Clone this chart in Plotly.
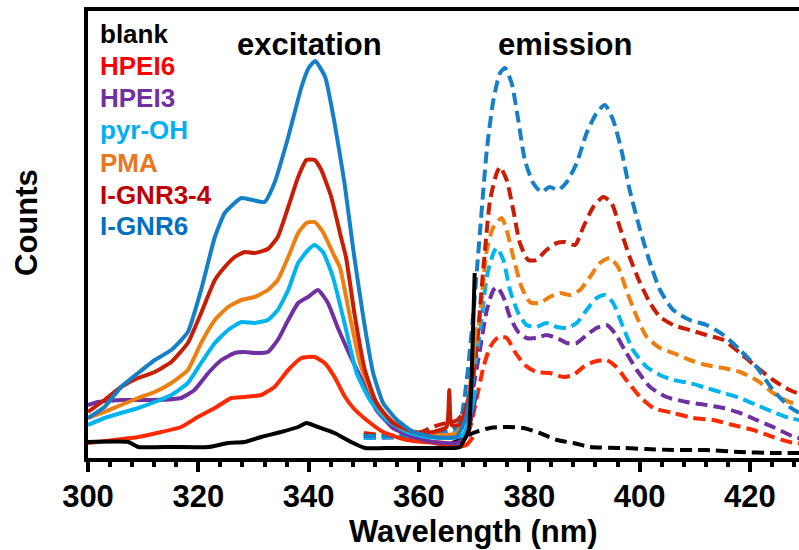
import plotly.graph_objects as go

# ---------------- data: excitation (solid) and emission (dashed) spectra ----------------
SAMPLES = ["blank", "HPEI6", "HPEI3", "pyr-OH", "PMA", "I-GNR3-4", "I-GNR6"]

BLANK_EX_WL = [300, 307.3, 309.1, 315.1, 321.8, 325.4, 328.4, 331.4, 335.0, 338.1, 339.6, 341.7,
               344.7, 347.7, 350.2, 355, 360, 365, 367.4, 369.0, 369.7, 370.1]
BLANK_EX = [16, 16, 11, 11, 11, 15, 16, 21, 26, 31, 35, 31, 25, 16, 10, 10, 10, 10, 11, 28, 108, 185]

HPEI6_EX_WL = [300, 304.8, 309.1, 313.3, 316.9, 319.9, 323.0, 326.0, 328.4, 331.4, 333.8, 336.3,
               338.7, 341.1, 342.9, 344.7, 346.5, 348.1, 350.5, 353.5, 357.8, 362.6, 366.8, 368.6, 369.8]
HPEI6_EX = [15, 18, 21, 26, 31, 41, 50, 60, 61, 63, 71, 88, 100, 101, 95, 81, 62, 50, 38, 26, 18,
            15, 11, 13, 21]

HPEI3_EX_WL = [300, 301.8, 306.0, 312.1, 316.9, 319.3, 321.8, 324.2, 326.6, 328.4, 330.2, 332.6,
               334.4, 336.3, 338.1, 339.9, 341.7, 343.5, 345.3, 347.3, 349.9, 352.3, 355.3, 359.0,
               362.6, 366.8, 368.6, 369.8, 370.4]
HPEI3_EX = [53, 56, 58, 58, 60, 68, 85, 98, 105, 106, 105, 106, 118, 138, 155, 161, 168, 155, 130,
            105, 75, 48, 30, 21, 16, 15, 21, 48, 65]

PYR_EX_WL = [300, 303.0, 306.0, 309.1, 312.1, 315.1, 318.1, 320.5, 323.0, 325.4, 327.8, 330.2,
             332.6, 334.4, 336.3, 338.1, 339.9, 341.1, 342.6, 344.4, 346.5, 348.7, 351.1, 354.1,
             357.8, 361.4, 365.6, 368.0, 369.5, 370.2]
PYR_EX = [33, 40, 45, 50, 56, 63, 75, 95, 115, 128, 136, 135, 138, 148, 168, 195, 208, 213, 206,
          181, 135, 85, 58, 38, 26, 21, 20, 23, 48, 68]

PMA_EX_WL = [300, 303.0, 306.0, 309.1, 312.1, 315.1, 318.1, 320.5, 323.0, 325.4, 327.8, 330.2,
             332.6, 334.4, 336.3, 338.1, 339.6, 341.1, 342.6, 344.4, 345.7, 347.5, 349.3, 351.1,
             353.5, 356.6, 360.2, 363.8, 366.8, 368.6, 369.8, 370.3]
PMA_EX = [40, 46, 53, 60, 66, 75, 88, 115, 138, 151, 158, 161, 168, 178, 201, 225, 235, 236, 226,
          205, 190, 141, 95, 68, 45, 31, 25, 23, 25, 48, 98, 131]

GNR34_EX_WL = [300, 303.0, 306.0, 309.1, 312.1, 315.1, 318.1, 320.5, 323.0, 324.8, 326.6, 328.4,
               330.2, 332.6, 334.4, 336.3, 338.1, 339.6, 341.1, 342.3, 344.1, 345.9, 346.8, 348.4,
               350.2, 352.3, 355.3, 359.0, 362.6, 365.0, 365.5, 365.9, 367.4, 369.0, 370.0]
GNR34_EX = [46, 58, 71, 80, 86, 96, 115, 145, 178, 191, 201, 206, 205, 209, 221, 251, 281, 298,
            298, 288, 261, 220, 200, 141, 88, 55, 35, 26, 26, 31, 68, 33, 33, 60, 90]

GNR6_EX_WL = [300, 303.0, 306.0, 309.1, 312.1, 315.1, 318.1, 320.5, 323.0, 324.8, 327.8, 332.0,
              333.8, 336.3, 338.7, 340.0, 341.2, 343.0, 344.7, 346.5, 348.1, 349.9, 351.7, 353.5,
              356.0, 359.0, 362.6, 366.8, 368.5, 369.8]
GNR6_EX = [40, 51, 71, 85, 98, 108, 126, 168, 221, 245, 260, 256, 275, 321, 371, 390, 397, 381,
           335, 275, 208, 141, 85, 55, 38, 26, 21, 21, 40, 80]

BLANK_EM_WL = [366, 367.4, 369.8, 372.9, 375.9, 378.9, 381.9, 385.0, 388.0, 391.0, 397.0, 401.3,
               406.1, 412.1, 418.2, 424.2, 430]
BLANK_EM = [15, 18, 25, 30, 31, 30, 25, 18, 15, 11, 10, 9, 8, 8, 6, 5, 5]

HPEI6_EM_WL = [350, 360, 366, 368.5, 369.5, 370.4, 371.7, 372.9, 374.4, 375.9, 377.4, 379.2, 381.3,
               383.7, 386.2, 388.0, 389.8, 391.6, 394.0, 395.8, 397.6, 400.1, 402.5, 406.1, 409.7,
               413.3, 416.9, 420.6, 424.2, 427.2, 430]
HPEI6_EM = [25, 18, 15, 20, 35, 58, 91, 111, 121, 120, 106, 93, 86, 85, 81, 83, 91, 96, 98, 91,
            78, 61, 50, 45, 40, 38, 33, 28, 21, 16, 14]

HPEI3_EM_WL = [350, 360, 366, 368.5, 370, 371.05, 372.3, 373.5, 374.2, 375.3, 376.5, 378.0, 379.5,
               381.3, 383.1, 385.0, 386.8, 388.6, 390.4, 392.2, 394.0, 395.5, 397.3, 399.5, 401.9,
               404.9, 408.5, 412.1, 415.2, 418.2, 421.2, 424.2, 427.2, 430]
HPEI3_EM = [20, 21, 22, 35, 75, 108, 148, 168, 171, 161, 141, 126, 120, 120, 123, 120, 115, 115,
            123, 130, 133, 125, 108, 88, 71, 61, 56, 53, 50, 45, 38, 31, 23, 18]

PYR_EM_WL = [350, 360, 366, 368, 369.5, 371.05, 372.3, 373.5, 374.1, 375.3, 376.5, 378.0, 379.5,
             381.3, 383.1, 385.0, 386.8, 388.6, 390.4, 392.2, 393.7, 395.2, 397.0, 398.8, 401.3,
             403.7, 406.1, 409.1, 412.1, 415.2, 418.2, 421.2, 424.2, 427.2, 430]
PYR_EM = [20, 22, 24, 35, 70, 125, 181, 205, 210, 198, 168, 145, 133, 131, 135, 131, 130, 135, 148,
          160, 163, 155, 131, 108, 91, 83, 78, 75, 70, 65, 60, 53, 46, 40, 37]

PMA_EM_WL = [350, 360, 364, 367, 369, 370, 371.05, 372.3, 373.5, 375.0, 375.9, 377.1, 378.6, 380.1,
             381.9, 383.7, 385.6, 387.4, 389.2, 391.0, 392.8, 394.6, 396.1, 397.6, 399.5, 401.3,
             403.7, 406.1, 409.1, 412.1, 415.2, 418.2, 421.2, 424.2, 427.2, 430]
PMA_EM = [22, 24, 28, 32, 60, 100, 141, 208, 231, 240, 228, 201, 171, 156, 155, 161, 165, 163, 168,
          181, 195, 200, 191, 168, 141, 121, 110, 105, 98, 93, 90, 86, 78, 65, 56, 53]

GNR34_EM_WL = [350, 355, 360, 363, 365, 367, 369, 370.4, 371.7, 372.9, 374.1, 374.7, 375.9, 377.1,
               378.3, 379.8, 381.3, 383.1, 385.0, 386.5, 388.3, 389.8, 391.6, 393.4, 394.9, 396.4,
               398.2, 400.1, 401.9, 403.7, 406.1, 409.1, 412.1, 415.2, 418.2, 421.2, 424.2, 427.2,
               430]
GNR34_EM = [24, 22, 25, 32, 35, 38, 55, 108, 191, 258, 285, 291, 278, 248, 215, 198, 198, 208, 215,
            216, 213, 231, 251, 261, 255, 231, 201, 175, 155, 141, 133, 128, 123, 118, 105, 91, 78,
            68, 62]

GNR6_EM_WL = [350, 355, 360, 364, 366, 367.4, 368.6, 369.8, 371.05, 372.3, 373.5, 374.7, 375.6,
              376.8, 378.0, 379.2, 380.7, 382.2, 383.7, 385.3, 386.8, 388.6, 390.4, 392.2, 393.7,
              395.2, 396.7, 398.2, 400.1, 401.9, 403.7, 406.1, 409.1, 412.1, 415.2, 418.2, 421.2,
              424.2, 427.2, 430]
GNR6_EM = [22, 22, 23, 25, 28, 35, 75, 141, 225, 308, 358, 385, 390, 375, 338, 298, 275, 266, 271,
           268, 276, 295, 325, 345, 353, 338, 308, 268, 228, 195, 168, 148, 138, 133, 123, 108, 91,
           68, 51, 42]

X_TICKS = [300, 320, 340, 360, 380, 400, 420]

# ---------------- styling ----------------
LINE_COLORS = {
    "blank": "#000000",
    "HPEI6": "#FF2A00",
    "HPEI3": "#7030A0",
    "pyr-OH": "#00B4F0",
    "PMA": "#EE8012",
    "I-GNR3-4": "#C81E05",
    "I-GNR6": "#1580C8",
}
TEXT_COLORS = {
    "blank": "#000000",
    "HPEI6": "#FF0000",
    "HPEI3": "#7030A0",
    "pyr-OH": "#00B0F0",
    "PMA": "#E87722",
    "I-GNR3-4": "#C00000",
    "I-GNR6": "#0070C0",
}

excitation = {
    "blank": (BLANK_EX_WL, BLANK_EX),
    "HPEI6": (HPEI6_EX_WL, HPEI6_EX),
    "HPEI3": (HPEI3_EX_WL, HPEI3_EX),
    "pyr-OH": (PYR_EX_WL, PYR_EX),
    "PMA": (PMA_EX_WL, PMA_EX),
    "I-GNR3-4": (GNR34_EX_WL, GNR34_EX),
    "I-GNR6": (GNR6_EX_WL, GNR6_EX),
}
emission = {
    "blank": (BLANK_EM_WL, BLANK_EM),
    "HPEI6": (HPEI6_EM_WL, HPEI6_EM),
    "HPEI3": (HPEI3_EM_WL, HPEI3_EM),
    "pyr-OH": (PYR_EM_WL, PYR_EM),
    "PMA": (PMA_EM_WL, PMA_EM),
    "I-GNR3-4": (GNR34_EM_WL, GNR34_EM),
    "I-GNR6": (GNR6_EM_WL, GNR6_EM),
}

FONT = "Liberation Sans, Arial, Helvetica, sans-serif"

fig = go.Figure()

draw_order = ["HPEI6", "HPEI3", "pyr-OH", "PMA", "I-GNR3-4", "I-GNR6", "blank"]
for name in draw_order:
    wl, em = emission[name]
    fig.add_trace(go.Scatter(
        x=wl, y=em, mode="lines", name=name + " emission",
        line=dict(color=LINE_COLORS[name], width=4, dash="12px,6px", shape="spline", smoothing=0.6),
        showlegend=False, hoverinfo="skip",
    ))
for name in draw_order:
    wl, ex = excitation[name]
    fig.add_trace(go.Scatter(
        x=wl, y=ex, mode="lines", name=name + " excitation",
        line=dict(color=LINE_COLORS[name], width=4, shape="spline", smoothing=0.45),
        showlegend=False, hoverinfo="skip",
    ))

# legend drawn as coloured labels
PLOT_L, PLOT_T, PLOT_B, PLOT_W = 88, 11, 458, 711
PLOT_H = PLOT_B - PLOT_T
legend_rows = [34, 66, 98, 130, 163, 195, 226]
for name, row in zip(SAMPLES, legend_rows):
    fig.add_annotation(
        text=name, xref="paper", yref="paper",
        x=(98 - PLOT_L) / PLOT_W, y=(PLOT_B - row) / PLOT_H,
        xanchor="left", yanchor="middle", showarrow=False,
        font=dict(family=FONT, size=26, color=TEXT_COLORS[name], weight="bold"),
    )

for label, cx in [("excitation", 309), ("emission", 565)]:
    fig.add_annotation(
        text=label, xref="paper", yref="paper",
        x=(cx - PLOT_L) / PLOT_W, y=(PLOT_B - 44) / PLOT_H,
        xanchor="center", yanchor="middle", showarrow=False,
        font=dict(family=FONT, size=31, color="black", weight="bold"),
    )

fig.add_annotation(
    text="Wavelength (nm)", xref="paper", yref="paper",
    x=(473 - PLOT_L) / PLOT_W, y=(PLOT_B - 531) / PLOT_H,
    xanchor="center", yanchor="middle", showarrow=False,
    font=dict(family=FONT, size=31, color="black", weight="bold"),
)
fig.add_annotation(
    text="Counts", xref="paper", yref="paper",
    x=(27 - PLOT_L) / PLOT_W, y=(PLOT_B - 223) / PLOT_H,
    xanchor="center", yanchor="middle", showarrow=False, textangle=-90,
    font=dict(family=FONT, size=31, color="black", weight="bold"),
)

fig.update_layout(
    width=799, height=550,
    margin=dict(l=PLOT_L, r=0, t=PLOT_T, b=550 - PLOT_B),
    paper_bgcolor="white", plot_bgcolor="white",
    showlegend=False,
    xaxis=dict(
        range=[300, 428.9], tickmode="array", tickvals=X_TICKS, ticktext=[str(t) for t in X_TICKS],
        showline=True, linecolor="black", linewidth=4, mirror=True,
        ticks="outside", ticklen=10, tickwidth=3.5, tickcolor="black",
        minor=dict(dtick=4, tick0=300, ticks="outside", ticklen=5, tickwidth=3.5, tickcolor="black"),
        showgrid=False, zeroline=False, ticklabelstandoff=-2,
        tickfont=dict(family=FONT, size=31, color="black", weight="bold"),
    ),
    yaxis=dict(
        range=[0, PLOT_H], showline=True, linecolor="black", linewidth=4,
        showticklabels=False, ticks="", showgrid=False, zeroline=False,
    ),
)

fig.write_html("out.html")
